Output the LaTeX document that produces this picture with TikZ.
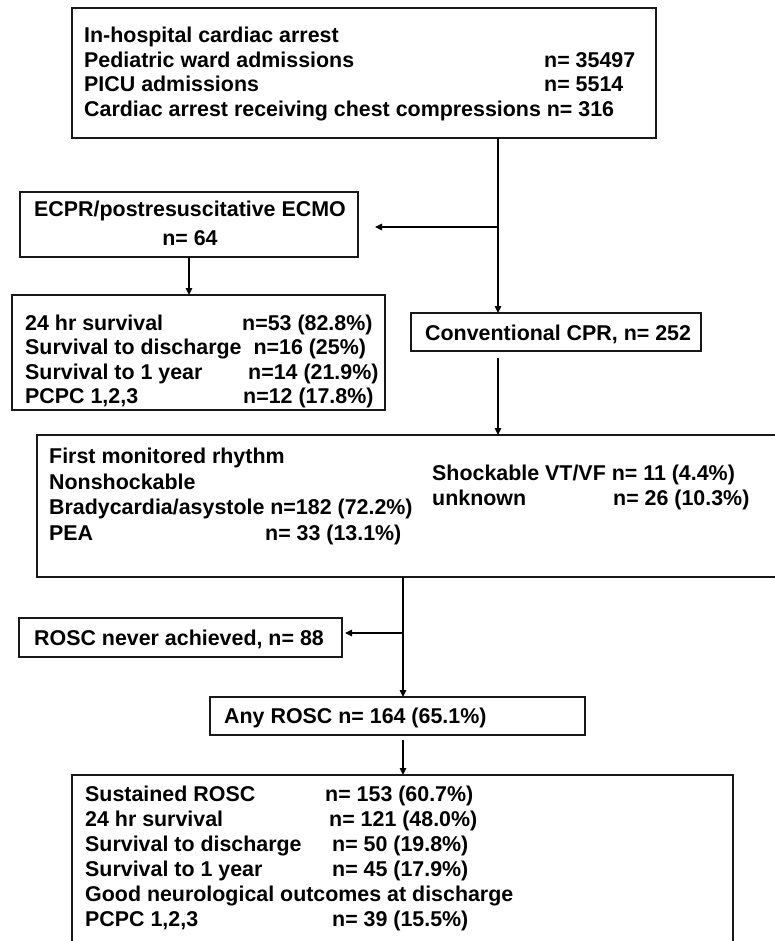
\documentclass[tikz,border=0pt]{standalone}
\usepackage{fontspec}
\setmainfont{Liberation Sans}
\usetikzlibrary{arrows.meta}
\begin{document}
\begin{tikzpicture}[x=1pt,y=-1pt,
  box/.style={draw=black!90, line width=1.1pt, inner sep=0pt, outer sep=0pt, anchor=north west},
  txt/.style={font=\fontsize{21.4}{25}\selectfont\bfseries, inner sep=0pt, anchor=base west},
  ctxt/.style={txt, anchor=base},
  arr/.style={draw=black, line width=1.1pt, -{Triangle[length=7pt,width=6.5pt]}}]
\useasboundingbox (0,0) rectangle (774,941);

% boxes
\node[box, minimum width=584pt, minimum height=130pt] (topbox) at (72,8) {};
\node[box, minimum width=338pt, minimum height=65pt] (ecpr) at (20,192) {};
\node[box, minimum width=373pt, minimum height=115pt] (surv) at (12,295) {};
\node[box, minimum width=290pt, minimum height=38pt] (conv) at (411,313) {};
\node[box, minimum width=770pt, minimum height=142pt] (rhythm) at (37,435) {};
\node[box, minimum width=323pt, minimum height=39pt] (never) at (19,618) {};
\node[box, minimum width=375pt, minimum height=38pt] (any) at (210,697) {};
\node[box, minimum width=661pt, minimum height=200pt] (outc) at (72,775) {};

% top box text
\node[txt] (t1) at (84,43) {In-hospital cardiac arrest};
\node[txt] (t2) at (84,68) {Pediatric ward admissions};
\node[txt] (t2n) at (544,68) {n= 35497};
\node[txt] (t3) at (84,92) {PICU admissions};
\node[txt] (t3n) at (544,92) {n= 5514};
\node[txt] (t4) at (84,117) {Cardiac arrest receiving chest compressions n= 316};

% ECPR
\node[ctxt] (e1) at (190,217) {ECPR/postresuscitative ECMO};
\node[ctxt] (e2) at (190,245) {n= 64};

% ECPR outcomes
\node[txt] (s1) at (25,330) {24 hr survival};
\node[txt] (s1n) at (242,330) {n=53 (82.8\%)};
\node[txt] (s2) at (25,354.5) {Survival to discharge\ \ n=16 (25\%)};
\node[txt] (s3) at (25,379) {Survival to 1 year};
\node[txt] (s3n) at (248,379) {n=14 (21.9\%)};
\node[txt] (s4) at (25,403.5) {PCPC 1,2,3};
\node[txt] (s4n) at (243,403.5) {n=12 (17.8\%)};

% conventional
\node[txt] (c1) at (425,340) {Conventional CPR, n= 252};

% rhythm
\node[txt] (r1) at (49,463) {First monitored rhythm};
\node[txt] (r2) at (49,489) {Nonshockable};
\node[txt] (r3) at (49,514) {Bradycardia/asystole n=182 (72.2\%)};
\node[txt] (r4) at (49,540) {PEA};
\node[txt] (r4n) at (265,540) {n= 33 (13.1\%)};
\node[txt] (r5) at (432,480) {Shockable VT/VF n= 11 (4.4\%)};
\node[txt] (r6) at (432,505) {unknown};
\node[txt] (r6n) at (613,505) {n= 26 (10.3\%)};

% ROSC
\node[txt] (n1) at (34,645) {ROSC never achieved, n= 88};
\node[txt] (a1) at (224,723) {Any ROSC n= 164 (65.1\%)};

% outcomes
\node[txt] (o1) at (85,801) {Sustained ROSC};
\node[txt] (o1n) at (325,801) {n= 153 (60.7\%)};
\node[txt] (o2) at (85,826) {24 hr survival};
\node[txt] (o2n) at (329,826) {n= 121 (48.0\%)};
\node[txt] (o3) at (85,851) {Survival to discharge};
\node[txt] (o3n) at (332,851) {n= 50 (19.8\%)};
\node[txt] (o4) at (85,876) {Survival to 1 year};
\node[txt] (o4n) at (332,876) {n= 45 (17.9\%)};
\node[txt] (o5) at (85,901) {Good neurological outcomes at discharge};
\node[txt] (o6) at (85,926) {PCPC 1,2,3};
\node[txt] (o6n) at (332,926) {n= 39 (15.5\%)};

% connectors
\coordinate (j1) at (498,227);
\coordinate (j2) at (403,633);
\draw[arr] (topbox.south -| j1) -- (conv.north -| j1);
\draw[arr, shorten >=17pt] (j1) -- (ecpr.east |- j1);
\draw[arr] (ecpr.south) -- (ecpr.south |- surv.north);
\draw[arr, shorten <=7pt] (conv.south -| j1) -- (rhythm.north -| j1);
\draw[arr] (rhythm.south -| j2) -- (any.north -| j2);
\draw[arr, shorten >=3pt] (j2) -- (never.east |- j2);
\draw[arr, shorten <=5pt] (any.south -| j2) -- (outc.north -| j2);
\end{tikzpicture}
\end{document}
